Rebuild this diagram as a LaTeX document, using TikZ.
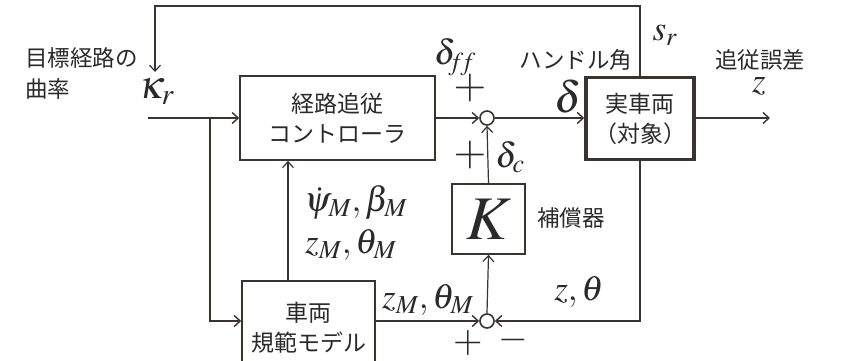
\documentclass[tikz,border=0pt]{standalone}
\usepackage{mathptmx}
\usepackage{fontspec}
\newfontfamily\jp{Noto Sans CJK JP}
\usetikzlibrary{arrows.meta,calc}
\definecolor{ln}{HTML}{3A3330}
\definecolor{tx}{HTML}{2A2A2A}
\tikzset{
  blk/.style={draw=ln, line width=1.6pt, fill=white, align=center, font=\jp\fontsize{23}{30}\selectfont, text=tx, inner sep=0pt},
  sumc/.style={circle, draw=ln, line width=1.6pt, fill=white, minimum size=14pt, inner sep=0pt},
  wire/.style={draw=ln, line width=1.8pt, -{Straight Barb[length=6pt,width=11pt,line width=1.4pt]}},
  thinwire/.style={draw=ln, line width=1.2pt, -{Straight Barb[length=6pt,width=11pt,line width=1.2pt]}},
  jlab/.style={font=\jp\fontsize{22.5}{29}\selectfont, text=tx, inner sep=0pt},
  mlab/.style={font=\fontsize{35}{40}\selectfont, text=tx, inner sep=0pt},
  slab/.style={font=\fontsize{42}{44}\selectfont, text=tx, inner sep=0pt}
}
\begin{document}
\begin{tikzpicture}[x=1pt,y=-1pt]
\useasboundingbox (0,0) rectangle (842,360);
\clip (0,0) rectangle (842,360);
\fill[white] (0,0) rectangle (842,360);

% blocks
\node[blk, minimum width=195pt, minimum height=84pt] (ctrl) at (337.5,118) {経路追従\\コントローラ};
\node[blk, line width=3.5pt, minimum width=108pt, minimum height=82pt] (plant) at (640,118.5) {実車両\\（対象）};
\node[blk, minimum width=73pt, minimum height=70pt, font=\fontsize{62}{62}\selectfont] (K) at (488.5,219) {$K$};
\node[blk, minimum width=133pt, minimum height=94pt] (model) at (308.5,328) {車両\\規範モデル};
\node[sumc] (s1) at (487,118) {};
\node[sumc] (s2) at (487,321) {};

% coordinates
\coordinate (in) at (148,118);
\coordinate (br) at (210,118);
\coordinate (out) at (770,118);
\coordinate (ftop) at (155,6);
\coordinate (fbend) at (155,72);
\coordinate (mx) at (288,0);

% connectors
\draw[wire] (in) -- (ctrl.west |- in);
\draw[wire] (br) |- (model.west |- s2);
\draw[wire] (ctrl.east |- s1) -- (s1.west);
\draw[wire] (s1.east) -- (plant.west |- s1);
\draw[wire] (plant.east |- s1) -- (out);
\draw[thinwire] (plant.north) |- (ftop) -- (fbend);
\draw[wire] (plant.south) |- (s2.east);
\draw[thinwire] (s2.north) -- (K.south);
\draw[thinwire] (K.north) -- (s1.south);
\draw[wire] (model.east |- s2) -- (s2.west);
\draw[thinwire] (model.north -| mx) -- (ctrl.south -| mx);

% labels
\node[jlab, anchor=west] (t1) at (25,58) {目標経路の};
\node[jlab, anchor=west] (t2) at (25,89) {曲率};
\node[mlab, font=\fontsize{40}{44}\selectfont] (kap) at (157,91) {$\kappa_r$};
\node[mlab] (dff) at (455,57) {$\delta_{\!f\!f}$};
\node[slab] (p1) at (470,88) {$+$};
\node[jlab] (hand) at (576,60) {ハンドル角};
\node[mlab, font=\fontsize{44}{46}\selectfont] (del) at (568,96) {$\delta$};
\node[mlab] (sr) at (665,35) {$s_r$};
\node[jlab] (err) at (760,60) {追従誤差};
\node[mlab] (z) at (759,86) {$z$};
\node[slab] (p2) at (470,155) {$+$};
\node[mlab] (dc) at (510,157) {$\delta_c$};
\node[jlab] (comp) at (571,218) {補償器};
\node[mlab] (psi) at (356,202) {$\dot\psi_M,\beta_M$};
\node[mlab] (zth) at (351,245) {$z_M,\theta_M$};
\node[mlab] (zth2) at (428,300) {$z_M,\theta_M$};
\node[mlab] (zt) at (579,292) {$z,\theta$};
\node[slab, font=\fontsize{38}{40}\selectfont] (p3) at (468,343) {$+$};
\node[slab, font=\fontsize{38}{40}\selectfont] (m3) at (513,340) {$-$};
\end{tikzpicture}
\end{document}
